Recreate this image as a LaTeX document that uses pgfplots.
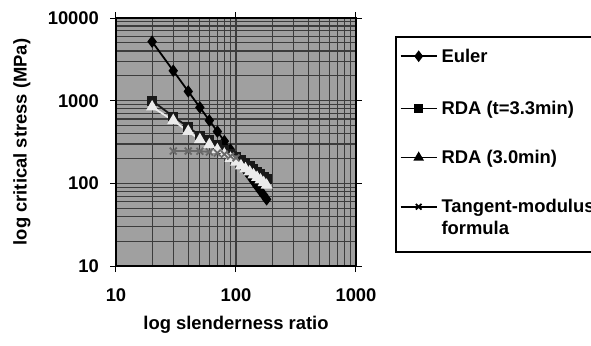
\documentclass[border=0pt]{standalone}
\usepackage{pgfplots}
\pgfplotsset{compat=1.18}
\usepackage{fontspec}
\setmainfont{Liberation Sans}
\usetikzlibrary{plotmarks}

\definecolor{plotbg}{RGB}{160,160,160}
\definecolor{gridc}{RGB}{60,60,60}
\definecolor{lightser}{RGB}{235,235,235}
\definecolor{tangser}{RGB}{105,105,105}

% critical stress (MPa) against slenderness ratio
\pgfplotstableread{
lam sig
20 5180
30 2303
40 1295
50 829
60 576
70 423
80 324
90 256
100 207
110 171
120 144
130 123
140 106
150 92
160 81
170 72
180 64
}\euler
\pgfplotstableread{
lam sig
20 1000
30 643
40 479
50 380
60 331
70 288
80 257
90 229
100 208
110 190
120 175
130 162
140 150
150 139
160 130
170 120
180 112
}\rdaA
\pgfplotstableread{
lam sig
20 840
30 575
40 425
50 337
60 294
70 255
80 225
90 200
100 180
110 163
120 150
130 138
140 127
150 118
160 110
170 102
180 95
}\rdaB
\pgfplotstableread{
lam sig
30 246
40 246
50 245
60 240
70 233
80 225
90 214
100 203
}\tangent

\begin{document}
\begin{tikzpicture}[font=\fontsize{9.2}{10}\selectfont\bfseries]
\useasboundingbox (0,0) rectangle (295.5pt,172.5pt);
\clip (0,0) rectangle (295.5pt,172.5pt);
\begin{loglogaxis}[
  at={(58pt,39.5pt)}, anchor=south west,
  scale only axis, width=120pt, height=124pt,
  xmin=10, xmax=1000, ymin=10, ymax=10000,
  axis background/.style={fill=plotbg},
  axis line style={black, line width=0.6pt},
  grid=both,
  major grid style={gridc, line width=0.6pt},
  minor grid style={gridc, line width=0.6pt},
  tick align=outside, major tick length=3pt, minor tick length=0pt,
  tick style={black, line width=0.5pt},
  xtick={10,100,1000}, xticklabels={10,100,1000},
  ytick={10,100,1000,10000}, yticklabels={10,100,1000,10000},
  xticklabel style={yshift=-5pt},
  yticklabel style={xshift=-2pt},
  xlabel={log slenderness ratio},
  ylabel={log critical stress (MPa)},
  xlabel style={at={(rel axis cs:0.5,-0.238)}, anchor=center},
  ylabel style={at={(rel axis cs:-0.392,0.5)}, anchor=center, rotate=0},
  legend style={at={(rel axis cs:1.1625,0.927)}, anchor=north west,
    draw=black, line width=0.8pt, fill=white,
    inner xsep=2pt, inner ysep=4pt, row sep=12pt,
    cells={anchor=base west},
    nodes={text depth={}},
    font=\fontsize{9.2}{10}\selectfont\bfseries},
  legend image code/.code={%
    \draw[mark repeat=2, mark phase=2, line width=0.9pt]
      plot coordinates {(0pt,3pt) (9pt,3pt) (18pt,3pt)};},
]
% series
\addplot[black, line width=0.9pt, mark=diamond*, mark size=2.4pt,
  mark options={fill=black}, forget plot] table[x=lam,y=sig] {\euler};
\addplot[black!90, line width=0.9pt, mark=square*, mark size=2pt,
  mark options={fill=black!90}, forget plot] table[x=lam,y=sig] {\rdaA};
\addplot[lightser, line width=0.9pt, mark=triangle*, mark size=2.6pt,
  mark options={fill=lightser}, forget plot] table[x=lam,y=sig] {\rdaB};
\addplot[tangser, line width=0.9pt, mark=x, mark size=2.4pt,
  mark options={line width=0.9pt}, forget plot] table[x=lam,y=sig] {\tangent};
% legend samples
\addlegendimage{black, mark=diamond*, mark size=2.2pt}
\addlegendentry{Euler}
\addlegendimage{black, mark=square*, mark size=1.7pt}
\addlegendentry{\rule{0pt}{10pt}RDA (t=3.3min)}
\addlegendimage{black, mark=triangle*, mark size=2.2pt}
\addlegendentry{RDA (3.0min)}
\addlegendimage{black, mark=x, mark size=2pt}
\addlegendentry{\vtop{\hbox{Tangent-modulus\hspace*{20pt}}\vskip 1pt\hbox{formula\rule[-2.5pt]{0pt}{0pt}}}}
\end{loglogaxis}
\end{tikzpicture}
\end{document}
